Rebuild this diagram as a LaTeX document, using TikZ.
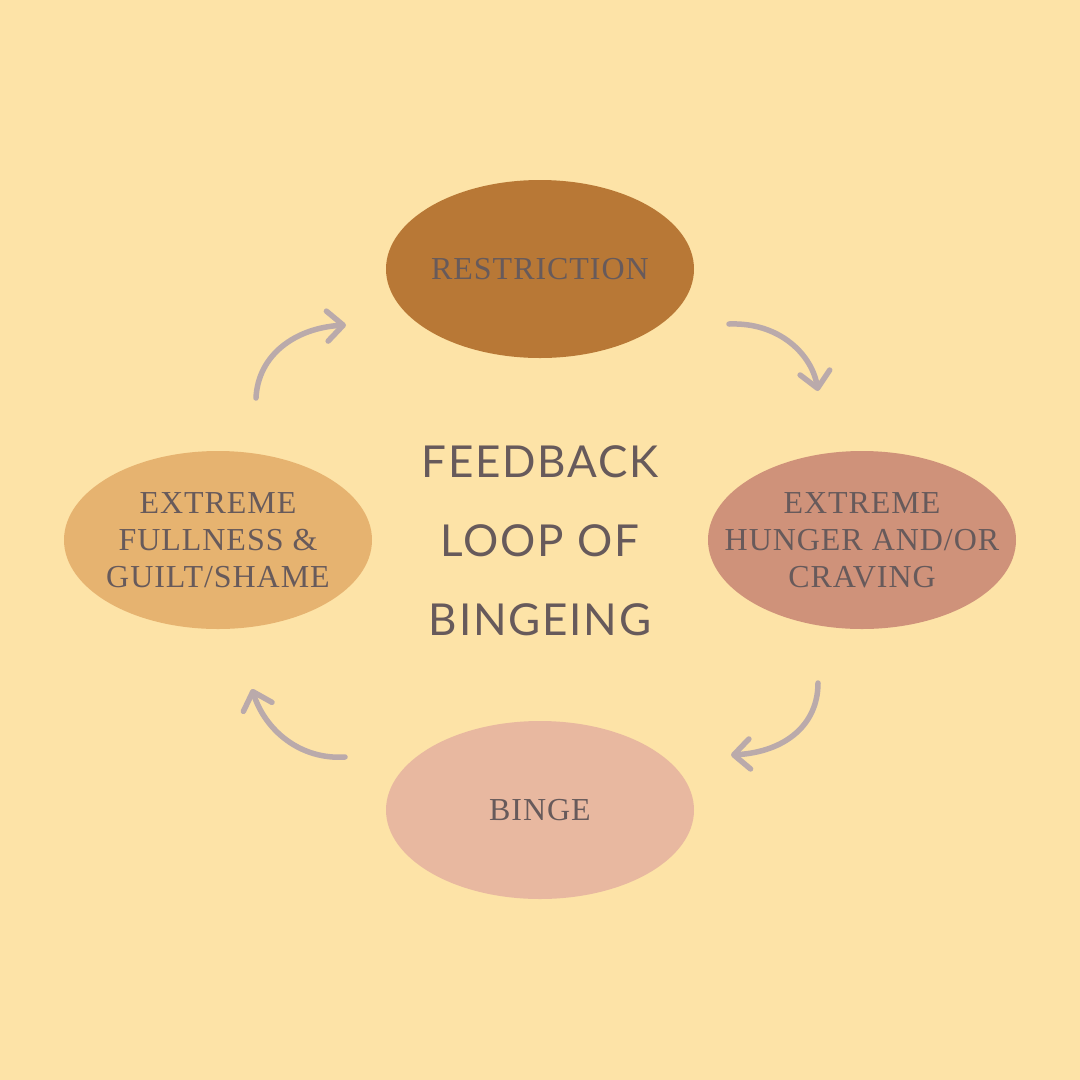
\documentclass[tikz,border=0pt]{standalone}
\usepackage{fontspec}
\setmainfont{Liberation Serif}
\newfontfamily\titlefont{Lato}[LetterSpace=4]
\usetikzlibrary{arrows.meta,shapes.geometric}
\definecolor{bg}{HTML}{FDE3A7}
\definecolor{txt}{HTML}{675A5B}
\definecolor{arr}{HTML}{BAAAAB}
\definecolor{cRes}{HTML}{B87836}
\definecolor{cHun}{HTML}{CF927A}
\definecolor{cBin}{HTML}{E8B8A0}
\definecolor{cFul}{HTML}{E6B370}
\tikzset{
  blob/.style={ellipse, minimum width=308pt, minimum height=178pt, inner sep=0pt},
  blobtext/.style={text=txt, align=center, inner sep=0pt,
    font=\addfontfeatures{LetterSpace=3}\fontsize{32}{37}\selectfont},
  loop arrow/.style={draw=arr, line width=5.5pt, line cap=round,
    -{Straight Barb[length=16pt, width=30pt, line width=5.5pt, round]}},
}
\begin{document}
\begin{tikzpicture}[x=1pt,y=1pt]
\fill[bg] (0,0) rectangle (1080,-1080);
\useasboundingbox (0,0) rectangle (1080,-1080);
\node[blob, fill=cRes] (res) at (540,-269) {};
\node[blob, fill=cHun] (hun) at (862,-540) {};
\node[blob, fill=cBin] (bin) at (540,-810) {};
\node[blob, fill=cFul] (ful) at (218,-540) {};
\node[blobtext] (resT) at (res.center) {RESTRICTION};
\node[blobtext] (hunT) at (hun.center) {EXTREME\\HUNGER AND/OR\\CRAVING};
\node[blobtext] (binT) at (bin.center) {BINGE};
\node[blobtext] (fulT) at (ful.center) {EXTREME\\FULLNESS \&\\GUILT/SHAME};
\node[text=txt, align=center, font=\titlefont\fontsize{44}{79}\selectfont] (title) at (540,-541) {FEEDBACK\\LOOP OF\\BINGEING};
\coordinate (a1s) at (729,-324); \coordinate (a1e) at (818,-391);
\coordinate (a2s) at (818,-683); \coordinate (a2e) at (731,-755);
\coordinate (a3s) at (345,-757); \coordinate (a3e) at (252,-689);
\coordinate (a4s) at (256,-398); \coordinate (a4e) at (346,-325);
\draw[loop arrow] (a1s) .. controls (780,-322) and (812,-355) .. (a1e);
\draw[loop arrow] (a2s) .. controls (818,-725) and (785,-752) .. (a2e);
\draw[loop arrow] (a3s) .. controls (300,-760) and (265,-730) .. (a3e);
\draw[loop arrow] (a4s) .. controls (258,-355) and (295,-328) .. (a4e);
\end{tikzpicture}
\end{document}
